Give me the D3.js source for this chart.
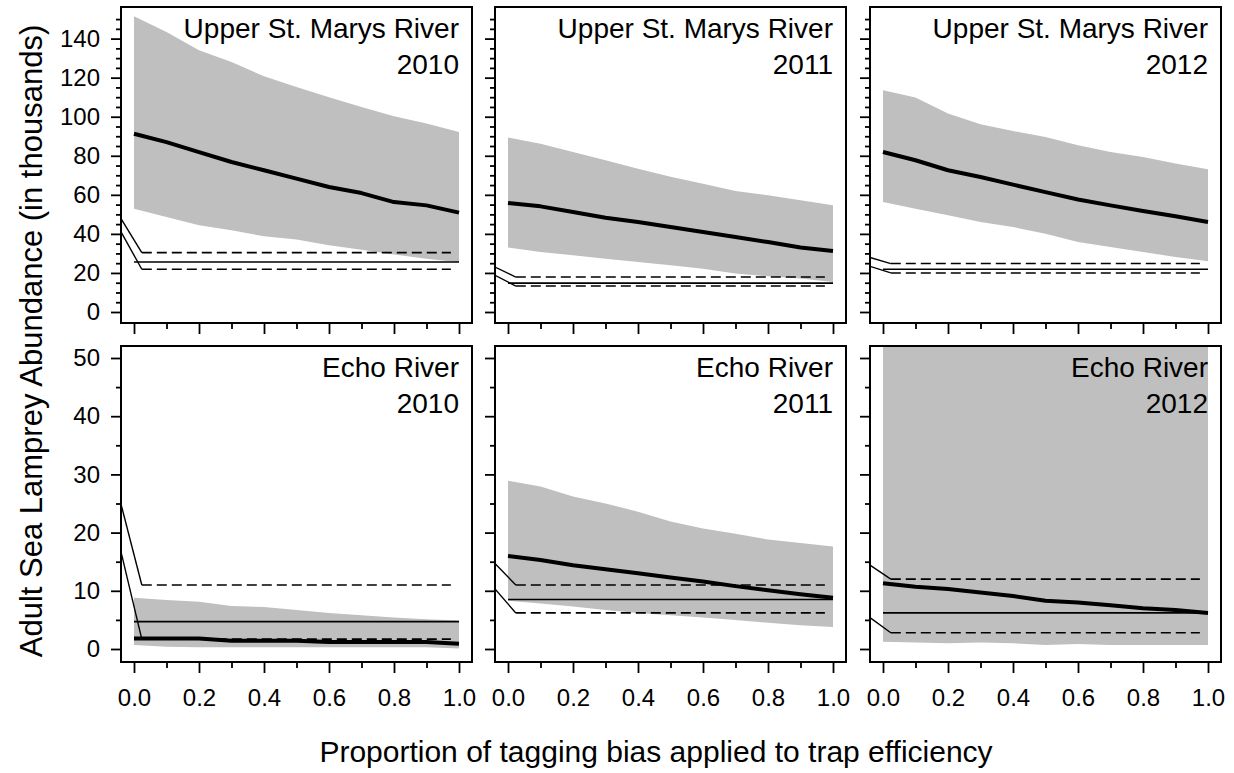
<!DOCTYPE html>
<html>
<head>
<meta charset="utf-8">
<script src="https://cdn.jsdelivr.net/npm/d3@7"></script>
<style>
  body { margin: 0; background: #fff; }
  svg { font-family: "Liberation Sans", Arial, sans-serif; }
</style>
</head>
<body>
<svg width="1234" height="773"></svg>
<script>
// proportion of tagging bias applied
const props = [0, 0.1, 0.2, 0.3, 0.4, 0.5, 0.6, 0.7, 0.8, 0.9, 1.0];

const usm2010Upper = [151.4, 143.4, 134, 128, 120.7, 115.2, 110, 105, 100.2, 96.5, 92.2];
const usm2010Lower = [52.9, 48.6, 44.4, 41.8, 38.8, 37.1, 34.2, 31.9, 29.5, 27.3, 25.5];
const usm2010Median = [91.3, 87.0, 81.9, 76.8, 72.6, 68.3, 64.0, 60.9, 56.3, 54.6, 50.9];

const usm2011Upper = [89.3, 86.2, 81.9, 77.7, 73.4, 69.2, 65.7, 62.0, 59.8, 57.2, 54.6];
const usm2011Lower = [33.0, 30.7, 29.0, 27.3, 25.6, 23.9, 22.2, 19.7, 18.3, 17.1, 15.4];
const usm2011Median = [55.8, 54.1, 51.2, 48.3, 46.1, 43.5, 41.0, 38.4, 35.8, 33.0, 31.2];

const usm2012Upper = [113.6, 109.8, 101.6, 96.1, 92.7, 89.6, 85.4, 81.9, 79.4, 76.0, 73.1];
const usm2012Lower = [56.3, 52.9, 49.5, 46.1, 43.5, 40.1, 35.8, 33.3, 30.7, 28.2, 26.0];
const usm2012Median = [81.9, 77.7, 72.6, 69.1, 65.2, 61.4, 57.6, 54.6, 51.7, 49.0, 46.1];

const echo2010Upper = [8.8, 8.4, 8.1, 7.4, 7.2, 6.7, 6.2, 5.8, 5.4, 5.1, 4.9];
const echo2010Lower = [0.7, 0.4, 0.3, 0.3, 0.3, 0.3, 0.3, 0.3, 0.3, 0.3, 0.1];
const echo2010Median = [1.8, 1.8, 1.8, 1.4, 1.4, 1.4, 1.2, 1.2, 1.2, 1.2, 0.9];

const echo2011Upper = [28.9, 27.9, 26.2, 25.0, 23.6, 21.9, 20.7, 19.8, 18.8, 18.2, 17.6];
const echo2011Lower = [8.3, 7.8, 7.3, 6.7, 6.2, 5.8, 5.4, 5.0, 4.5, 4.1, 3.8];
const echo2011Median = [16.0, 15.3, 14.4, 13.7, 13.0, 12.3, 11.6, 10.8, 10.1, 9.4, 8.8];

// upper limit runs off the top of the panel
const echo2012Upper = [60, 60, 60, 60, 60, 60, 60, 60, 60, 60, 60];
const echo2012Lower = [1.25, 1.1, 0.97, 1.1, 0.97, 0.69, 0.85, 0.69, 0.69, 0.69, 0.69];
const echo2012Median = [11.3, 10.7, 10.3, 9.7, 9.1, 8.3, 8.0, 7.5, 7.0, 6.7, 6.2];

// reference estimate and its interval, one per panel (USM 2010-12, Echo 2010-12)
const refEstimate = [25.6, 14.8, 21.9, 4.7, 8.5, 6.2];
const refUpper = [30.4, 17.9, 24.8, 11.0, 11.0, 12.0];
const refLower = [21.9, 13.3, 20.0, 1.7, 6.2, 2.8];
const slantUpper = [47.8, 23.0, 27.9, 24.9, 14.7, 14.4];
const slantLower = [41.0, 18.8, 23.4, 16.7, 10.3, 5.4];

const rivers = ["Upper St. Marys River", "Echo River"];
const years = ["2010", "2011", "2012"];
const xTicks = [0, 0.2, 0.4, 0.6, 0.8, 1.0];
const xMinor = [0.1, 0.3, 0.5, 0.7, 0.9];
const yTicksTop = [0, 20, 40, 60, 80, 100, 120, 140];
const yTicksBottom = [0, 10, 20, 30, 40, 50];

const panelData = [
    [usm2010Upper, usm2010Lower, usm2010Median],
    [usm2011Upper, usm2011Lower, usm2011Median],
    [usm2012Upper, usm2012Lower, usm2012Median],
    [echo2010Upper, echo2010Lower, echo2010Median],
    [echo2011Upper, echo2011Lower, echo2011Median],
    [echo2012Upper, echo2012Lower, echo2012Median]
];

const lefts = [121, 495, 870];
const tops = [7, 346];
const pw = 351;
const ph = 316;

const svg = d3.select("svg");

const x = d3.scaleLinear().domain([0, 1]).range([13, 338]);
const yScales = [
    d3.scaleLinear().domain([0, 140]).range([305, 31.6]),
    d3.scaleLinear().domain([0, 50]).range([303, 12])
];
const yMinor = [
    d3.range(0, 151, 5).filter(v => v % 20 !== 0),
    d3.range(5, 50, 10)
];

panelData.forEach((pd, i) => {
    const row = Math.floor(i / 3);
    const col = i % 3;
    const y = yScales[row];
    const [upper, lower, median] = pd;

    const g = svg.append("g")
        .attr("transform", `translate(${lefts[col]},${tops[row]})`);

    g.append("clipPath").attr("id", "clip" + i)
        .append("rect").attr("width", pw).attr("height", ph);

    const inner = g.append("g").attr("clip-path", `url(#clip${i})`);

    const area = d3.area()
        .x((d, j) => x(props[j]))
        .y0((d, j) => y(lower[j]))
        .y1(d => y(d));

    inner.append("path")
        .attr("d", area(upper))
        .attr("fill", "#bfbfbf");

    // reference estimate
    inner.append("line")
        .attr("x1", x(0)).attr("x2", x(1))
        .attr("y1", y(refEstimate[i])).attr("y2", y(refEstimate[i]))
        .attr("stroke", "#000").attr("stroke-width", 1.6);

    [[refUpper[i], slantUpper[i]], [refLower[i], slantLower[i]]].forEach(([v, s]) => {
        inner.append("line")
            .attr("x1", x(0.024)).attr("x2", x(0.975))
            .attr("y1", y(v)).attr("y2", y(v))
            .attr("stroke", "#000").attr("stroke-width", 1.6)
            .attr("stroke-dasharray", "10,5");
        inner.append("line")
            .attr("x1", 0).attr("x2", x(0.024))
            .attr("y1", y(s)).attr("y2", y(v))
            .attr("stroke", "#000").attr("stroke-width", 1.4);
    });

    inner.append("path")
        .attr("d", d3.line().x((d, j) => x(props[j])).y(d => y(d))(median))
        .attr("fill", "none")
        .attr("stroke", "#000")
        .attr("stroke-width", 4)
        .attr("stroke-linejoin", "round");

    // y axis
    g.append("g")
        .call(d3.axisLeft(y).tickValues(row === 0 ? yTicksTop : yTicksBottom)
            .tickSize(10).tickPadding(11)
            .tickFormat(col === 0 ? d3.format("d") : ""));
    g.append("g")
        .call(d3.axisLeft(y).tickValues(yMinor[row]).tickSize(5).tickFormat(""));

    // x axis
    g.append("g")
        .attr("transform", `translate(0,${ph})`)
        .call(d3.axisBottom(x).tickValues(xTicks)
            .tickSize(11).tickPadding(16)
            .tickFormat(row === 1 ? d3.format(".1f") : ""));
    g.append("g")
        .attr("transform", `translate(0,${ph})`)
        .call(d3.axisBottom(x).tickValues(xMinor).tickSize(6).tickFormat(""));

    g.selectAll(".domain").remove();
    g.selectAll(".tick line").attr("stroke", "#000").attr("stroke-width", 1.8);
    g.selectAll(".tick text")
        .attr("fill", "#000")
        .style("font-size", "24px")
        .style("font-family", "'Liberation Sans', Arial, sans-serif");

    g.append("rect")
        .attr("width", pw).attr("height", ph)
        .attr("fill", "none")
        .attr("stroke", "#000")
        .attr("stroke-width", 2);

    g.append("text")
        .attr("x", pw - 13).attr("y", 30.5)
        .attr("text-anchor", "end")
        .style("font-size", "28px")
        .text(rivers[row]);
    g.append("text")
        .attr("x", pw - 13).attr("y", 66.5)
        .attr("text-anchor", "end")
        .style("font-size", "28px")
        .text(years[col]);
});

svg.append("text")
    .attr("transform", "translate(42,341) rotate(-90)")
    .attr("text-anchor", "middle")
    .style("font-size", "31px")
    .text("Adult Sea Lamprey Abundance (in thousands)");

svg.append("text")
    .attr("x", 656).attr("y", 762)
    .attr("text-anchor", "middle")
    .style("font-size", "30px")
    .text("Proportion of tagging bias applied to trap efficiency");
</script>
</body>
</html>
